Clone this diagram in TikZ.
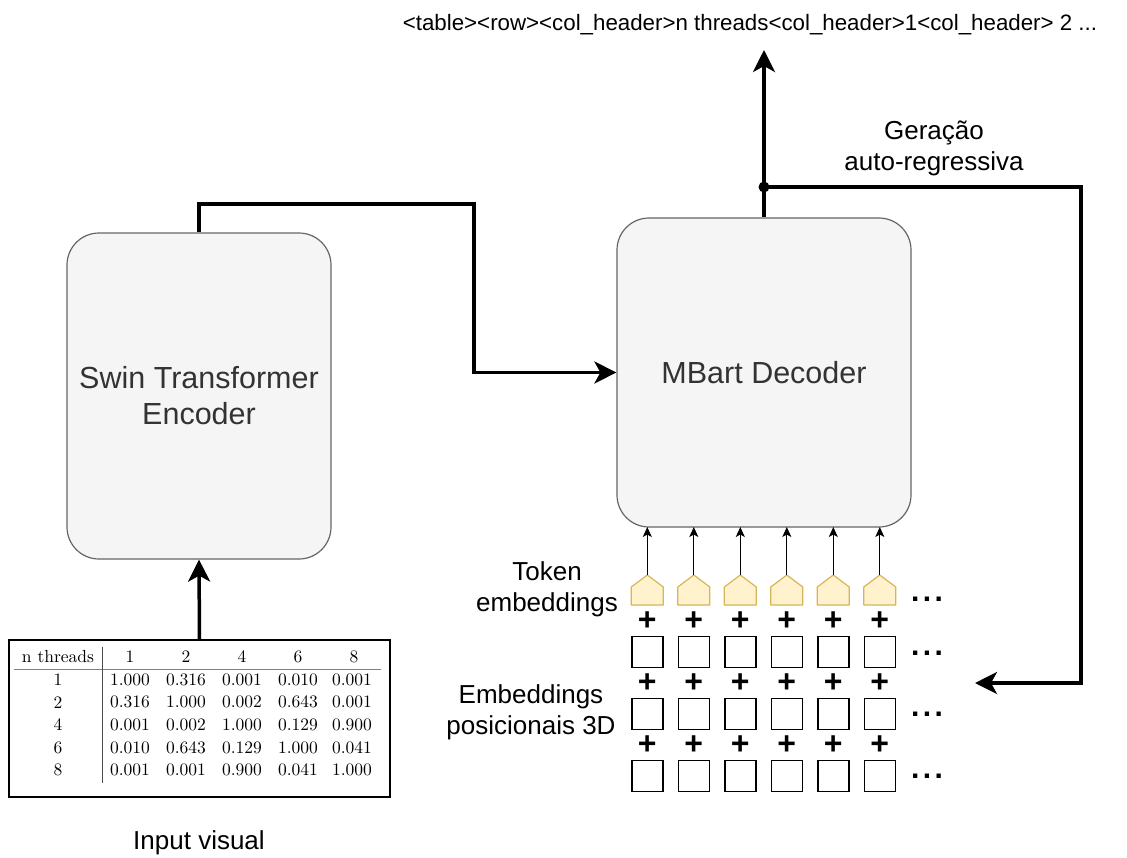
\documentclass[tikz,border=0pt]{standalone}
\usepackage{fontspec}
\newfontfamily\lab{Liberation Sans}
\usetikzlibrary{arrows.meta}
\definecolor{boxfill}{HTML}{F5F5F5}
\definecolor{boxdraw}{HTML}{666666}
\definecolor{boxtext}{HTML}{333333}
\definecolor{tokfill}{HTML}{FFF2CC}
\definecolor{tokdraw}{HTML}{D6B656}
\tikzset{
  bigbox/.style={draw=boxdraw, fill=boxfill, rounded corners=32pt, line width=1.2pt,
    font=\lab\fontsize{30.5}{36}\selectfont, text=boxtext, align=center, inner sep=0pt},
  thickarrow/.style={line width=3.5pt, -{Stealth[length=22pt,width=22pt,inset=6pt]}},
  thinarrow/.style={line width=1.2pt, -{Stealth[length=10pt,width=9pt,inset=2.5pt]}},
  lbl/.style={font=\lab\fontsize{26}{31}\selectfont, align=center, inner sep=0pt},
  cell/.style={font=\fontsize{10}{12}\selectfont, scale=1.75, inner sep=0pt},
  tokshape/.style={draw=tokdraw, fill=tokfill, line width=1.2pt, line join=round},
  sq/.style={draw, line width=1.5pt, minimum size=31pt, inner sep=0pt},
  plussign/.style={font=\lab\bfseries\fontsize{32}{32}\selectfont, inner sep=0pt},
  dotsign/.style={font=\lab\bfseries\fontsize{30}{30}\selectfont, inner sep=0pt, anchor=base}
}
\newcommand{\mydots}{.\kern3.4pt.\kern3.4pt.}
\begin{document}
\begin{tikzpicture}[x=1pt,y=-1pt]
\useasboundingbox (0,0) rectangle (1127,857);

% main boxes
\node[bigbox, minimum width=264pt, minimum height=326pt] (sw) at (199,396) {Swin Transformer\\Encoder};
\node[bigbox, minimum width=294pt, minimum height=309pt] (mb) at (764,372.5) {MBart Decoder};

% table
\node[draw, line width=1.5pt, minimum width=381pt, minimum height=157pt, inner sep=0pt] (tbl) at (199.5,718.5) {};
\draw[gray, line width=0.8pt] (14,669) coordinate (rl) -- (381,669) coordinate (rr);
\draw[black!70, line width=0.8pt] (102,647) coordinate (vt) -- (102,783) coordinate (vb);
\node[cell] (h0) at (58,657) {n threads};
\foreach \h [count=\j] in {1,2,4,6,8} {
  \node[cell] (h\j) at ({74+56*\j},657) {\h};
}
\foreach \r/\a/\b/\c/\d/\e [count=\i] in {
  1/1.000/0.316/0.001/0.010/0.001,
  2/0.316/1.000/0.002/0.643/0.001,
  4/0.001/0.002/1.000/0.129/0.900,
  6/0.010/0.643/0.129/1.000/0.041,
  8/0.001/0.001/0.900/0.041/1.000} {
  \pgfmathsetmacro{\yy}{657+22.6*\i}
  \node[cell] (r\i-0) at (58,\yy) {\r};
  \node[cell] (r\i-1) at (130,\yy) {\a};
  \node[cell] (r\i-2) at (186,\yy) {\b};
  \node[cell] (r\i-3) at (242,\yy) {\c};
  \node[cell] (r\i-4) at (298,\yy) {\d};
  \node[cell] (r\i-5) at (352,\yy) {\e};
}
\node[lbl] (inp) at (199,843) {Input visual};

% connectors between boxes
\draw[thickarrow] (tbl.north) -- (sw.south);
\coordinate (c1) at (199,204);
\coordinate (c2) at (474,204);
\coordinate (c3) at (474,372.5);
\draw[thickarrow, line join=miter] (sw.north) -- (c1) -- (c2) -- (c3) -- (mb.west);

% output
\coordinate (outtip) at (764,50);
\coordinate (split) at (764,187);
\coordinate (f1) at (1081,187);
\coordinate (f2) at (1081,683);
\coordinate (fb) at (975,683);
\draw[thickarrow] (mb.north) -- (outtip);
\draw[thickarrow, line join=miter] (split) -- (f1) -- (f2) -- (fb);
\fill (split) circle (5.5pt);
\node[font=\lab\fontsize{22.3}{26}\selectfont, inner sep=0pt] (outtxt) at (750,25)
  {<table><row><col\_header>n threads<col\_header>1<col\_header> 2 ...};
\node[lbl, text width=220pt] (gen) at (934,148) {Geração\\auto-regressiva};

% embeddings
\node[lbl] (toklbl) at (547,589) {Token\\embeddings};
\node[lbl] (poslbl) at (531,712) {Embeddings\\posicionais 3D};
\foreach \i in {0,...,5} {
  \pgfmathsetmacro{\xx}{647.3+46.5*\i}
  \draw[tokshape] (\xx-16,605) -- (\xx-16,587) -- (\xx,575) coordinate (tk\i) -- (\xx+16,587) -- (\xx+16,605) -- cycle;
  \coordinate (mbin\i) at (\xx,527);
  \draw[thinarrow] (tk\i) -- (mbin\i);
  \node[plussign] (pa\i) at (\xx,621) {+};
  \node[sq] (sa\i) at (\xx,652) {};
  \node[plussign] (pb\i) at (\xx,683) {+};
  \node[sq] (sb\i) at (\xx,714) {};
  \node[plussign] (pc\i) at (\xx,745) {+};
  \node[sq] (sc\i) at (\xx,776) {};
}
\node[dotsign] (d0) at (927,601) {\mydots};
\node[dotsign] (d1) at (927,655) {\mydots};
\node[dotsign] (d2) at (927,716) {\mydots};
\node[dotsign] (d3) at (927,778) {\mydots};
\end{tikzpicture}
\end{document}
